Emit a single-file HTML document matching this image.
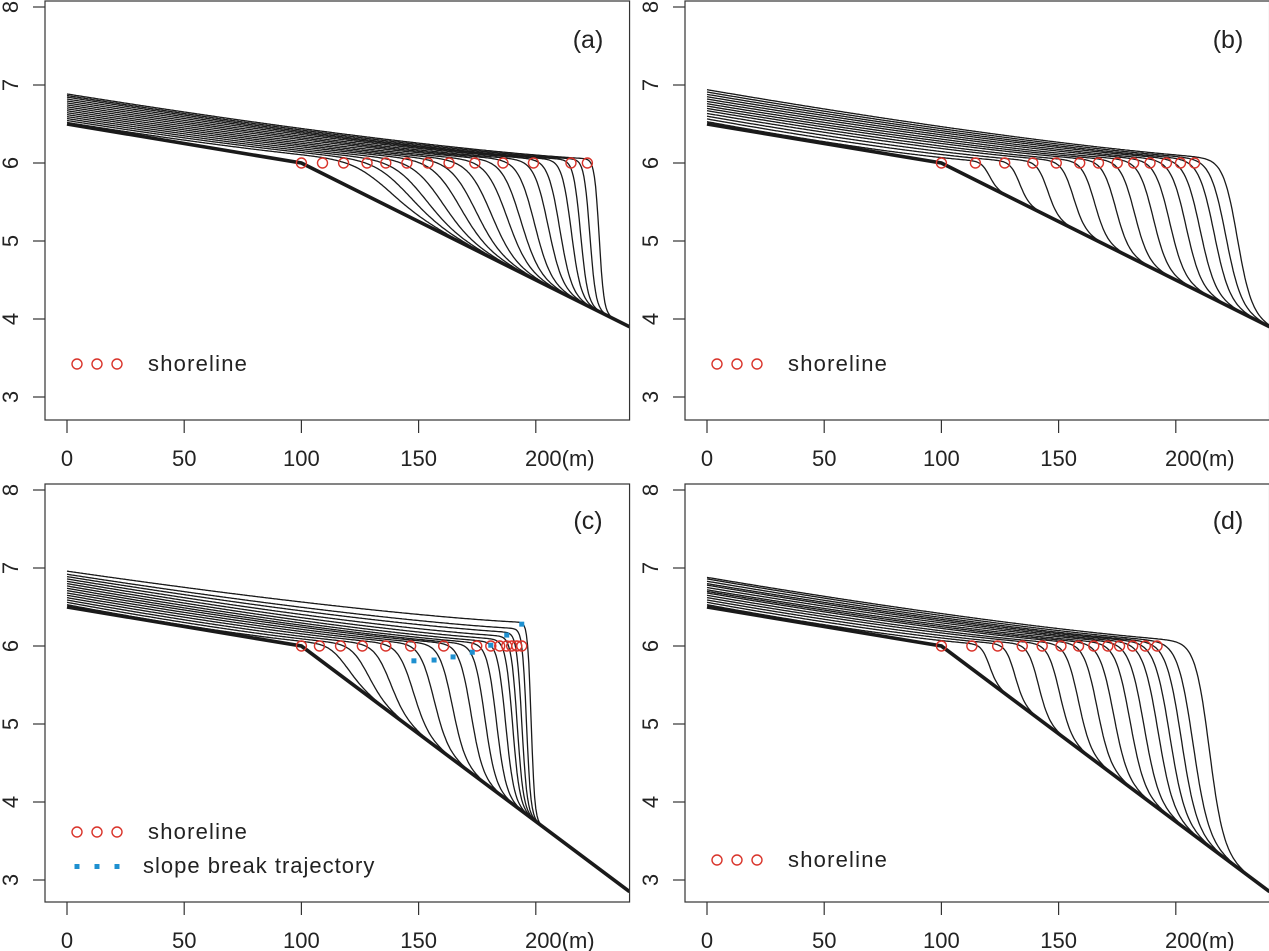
<!DOCTYPE html>
<html><head><meta charset="utf-8"><style>
html,body{margin:0;padding:0;background:#fff;}
svg{display:block;font-family:"Liberation Sans",sans-serif;}
</style></head><body>
<svg id="chart" width="1269" height="951" viewBox="0 0 1269 951" xmlns="http://www.w3.org/2000/svg"></svg>
<script>
const xTicks=[0,50,100,150,200];
const xTickLabels=["0","50","100","150","200(m)"];
const yTicks=[3,4,5,6,7,8];
// panel a
const aShore=[100,109,118,128,136,145,154,163,174,186,199,215,222];
const aY0=[6.52,6.545,6.57,6.595,6.62,6.645,6.67,6.695,6.72,6.745,6.77,6.795,6.82,6.845,6.865,6.885];
const aXm=[132,142,150,158,166,173,180,187,193,199,205,210,215,219,223,227];
const aW=[16,15,14,13,12,11,10,9,8,7,6,5,4,3,2.5,2];
const aYe=[6.03,6.03,6.03,6.03,6.03,6.03,6.03,6.03,6.035,6.035,6.035,6.04,6.04,6.04,6.045,6.05];
// panel b
const bShore=[100,114.5,127,139,149,159,167,175,182,189,196,202,208];
const bY0=[6.53,6.565,6.6,6.635,6.67,6.7,6.73,6.76,6.79,6.82,6.85,6.88,6.91,6.94];
const bXm=[120,133,145,156,165,174,182,190,197,204,210,216,221,226];
const bW=[3.5,4,4.5,5,5.3,5.6,5.9,6.1,6.3,6.4,6.5,6.5,6.5,6];
const bYe=[6.02,6.02,6.02,6.025,6.025,6.03,6.03,6.03,6.035,6.035,6.04,6.04,6.045,6.05];
// panel c
const cShore=[100,107.7,116.7,126,136,146.6,160.7,174.8,180.8,184.6,187.6,189.7,191.9,194];
const cY0=[6.53,6.56,6.59,6.62,6.65,6.68,6.71,6.74,6.77,6.8,6.83,6.86,6.89,6.92,6.96];
const cXm=[117,127,137,147,156,164,172,178,183,187,190,192,194,196,198];
const cW=[8,7.5,7,6.5,6,5.5,5,4.5,4,3.5,3,2.6,2.2,1.8,1.5];
const cYe=[6.02,6.02,6.02,6.02,6.02,6.02,6.02,6.02,6.03,6.05,6.08,6.12,6.17,6.22,6.3];
const cBreakX=[148,156.6,164.7,172.9,180.8,187.6,194];
const cBreakY=[5.81,5.82,5.86,5.92,6.01,6.14,6.28];
// panel d
const dShore=[100,113,124,134.5,143,151,158.5,165,171,176,181.6,187,192];
const dY0=[6.53,6.56,6.59,6.62,6.65,6.68,6.7,6.72,6.75,6.78,6.8,6.83,6.86,6.88];
const dXm=[120,131,141,150,158,166,173,180,186,192,197,202,207,214];
const dW=[3.5,4,4.5,5,5.3,5.6,5.9,6.1,6.3,6.4,6.5,6.5,6.5,6];
const dYe=[6.02,6.02,6.02,6.025,6.025,6.03,6.03,6.03,6.035,6.035,6.04,6.04,6.045,6.05];

const NS="http://www.w3.org/2000/svg";
const svg=document.getElementById('chart');
function mk(tag,attrs,parent){const e=document.createElementNS(NS,tag);for(const k in attrs)e.setAttribute(k,attrs[k]);(parent||svg).appendChild(e);return e;}

function panel(p){
  const g=mk('g',{});
  
  
  const X=m=>p.ox+67+m*2.344;
  const Y=v=>p.y6-(v-6)*78;
  const base=x=>x<=100?6.5-0.005*x:6-(6-p.endY)*(x-100)/140;
  const clipId='clip'+p.id;
  const cp=mk('clipPath',{id:clipId},g);
  mk('rect',{x:p.ox+45,y:p.top,width:X(240)-(p.ox+45),height:p.bot-p.top},cp);
  const cg=mk('g',{'clip-path':'url(#'+clipId+')'},g);
  for(let k=0;k<p.y0.length;k++){
    const y0=p.y0[k],xm=p.xm[k],w=p.w[k],ye=p.ye[k];
    let d='';
    for(let x=0;x<=240;x+=0.5){
      const t=Math.min(1,x/xm);
      let T=ye+(y0-ye)*Math.pow(1-t,1.3);
      const b=base(x);
      if(T<b)T=b;
      const s=0.5-0.5*Math.tanh((x-xm)/w);
      const y=b+(T-b)*s;
      d+=(x===0?'M':'L')+X(x).toFixed(1)+','+Y(y).toFixed(1);
    }
    const pth=mk('path',{d:d,fill:'none',stroke:'#1a1a1a','stroke-width':1.3},cg);
    
    
  }
  const bp=mk('path',{d:'M'+X(0)+','+Y(6.5)+'L'+X(100)+','+Y(6)+'L'+X(240)+','+Y(p.endY),fill:'none',stroke:'#1a1a1a','stroke-width':3.6},cg);
  
  
  p.shore.forEach(x=>{
    const c=mk('circle',{cx:X(x),cy:Y(6),r:5,fill:'none',stroke:'#d9342b','stroke-width':1.4},g);
    
    
  });
  if(p.bx){
    p.bx.forEach((x,i)=>{
      const r=mk('rect',{x:X(x)-2.5,y:Y(p.by[i])-2.5,width:5,height:5,fill:'#1e90d0'},g);
      
      
    });
  }
  const box=mk('rect',{x:p.ox+45,y:p.top,width:X(240)-(p.ox+45),height:p.bot-p.top,fill:'none',stroke:'#333','stroke-width':1.2},g);
  
  
  xTicks.forEach((t,i)=>{
    mk('line',{x1:X(t),x2:X(t),y1:p.bot,y2:p.bot+13,stroke:'#333','stroke-width':1.2},g);
    const tx=mk('text',{x:X(t)+(i===4?24:0),y:p.bot+46,'text-anchor':'middle','font-size':22,fill:'#222'},g);
    tx.textContent=xTickLabels[i];
    
    
  });
  yTicks.forEach(t=>{
    mk('line',{x1:p.ox+33,x2:p.ox+45,y1:Y(t),y2:Y(t),stroke:'#333','stroke-width':1.2},g);
    const tx=mk('text',{x:0,y:0,'text-anchor':'middle','font-size':22,fill:'#222',transform:'translate('+(p.ox+18)+','+Y(t)+') rotate(-90)'},g);
    tx.textContent=String(t);
    
    
  });
  const lab=mk('text',{x:p.ox+588,y:p.top+(p.top<10?47:45),'text-anchor':'middle','font-size':25,fill:'#222'},g);
  lab.textContent='('+p.id+')';
  
  
  [77,97,117].forEach(x=>mk('circle',{cx:p.ox+x,cy:p.legY,r:5,fill:'none',stroke:'#d9342b','stroke-width':1.4},g));
  const lt=mk('text',{x:p.ox+148,y:p.legY+7,'font-size':22,fill:'#222','letter-spacing':'1.2'},g);
  lt.textContent='shoreline';
  
  
  if(p.bx){
    [77,97,117].forEach(x=>mk('rect',{x:p.ox+x-2.5,y:p.legY+32,width:5,height:5,fill:'#1e90d0'},g));
    const lt2=mk('text',{x:p.ox+143,y:p.legY+41,'font-size':22,fill:'#222','letter-spacing':'1'},g);
    lt2.textContent='slope break trajectory';
    
    
  }
}
panel({id:'a',ox:0,y6:163,top:1,bot:420,endY:3.9,shore:aShore,y0:aY0,xm:aXm,w:aW,ye:aYe,legY:364});
panel({id:'b',ox:640,y6:163,top:1,bot:420,endY:3.9,shore:bShore,y0:bY0,xm:bXm,w:bW,ye:bYe,legY:364});
panel({id:'c',ox:0,y6:646,top:484,bot:902,endY:2.85,shore:cShore,y0:cY0,xm:cXm,w:cW,ye:cYe,legY:832,bx:cBreakX,by:cBreakY});
panel({id:'d',ox:640,y6:646,top:484,bot:902,endY:2.85,shore:dShore,y0:dY0,xm:dXm,w:dW,ye:dYe,legY:860});
</script>
</body></html>
